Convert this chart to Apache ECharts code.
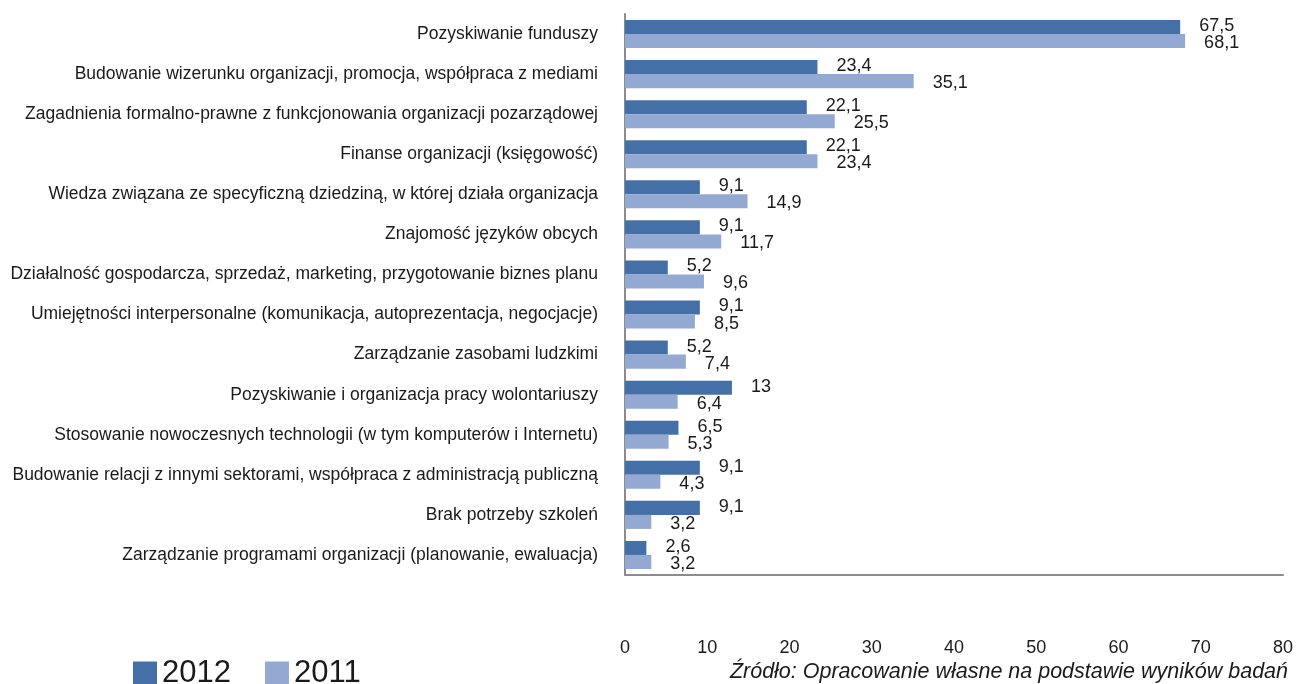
<!DOCTYPE html>
<html><head><meta charset="utf-8">
<script src="https://cdn.jsdelivr.net/npm/echarts@6/dist/echarts.min.js"></script>
<style>html,body{margin:0;padding:0;background:#fff}#c{width:1298px;height:684px}</style>
</head><body><div id="c"></div>
<script>
const categories = [
  "Pozyskiwanie funduszy",
  "Budowanie wizerunku organizacji, promocja, współpraca z mediami",
  "Zagadnienia formalno-prawne z funkcjonowania organizacji pozarządowej",
  "Finanse organizacji (księgowość)",
  "Wiedza związana ze specyficzną dziedziną, w której działa organizacja",
  "Znajomość języków obcych",
  "Działalność gospodarcza, sprzedaż, marketing, przygotowanie biznes planu",
  "Umiejętności interpersonalne (komunikacja, autoprezentacja, negocjacje)",
  "Zarządzanie zasobami ludzkimi",
  "Pozyskiwanie i organizacja pracy wolontariuszy",
  "Stosowanie nowoczesnych technologii (w tym komputerów i Internetu)",
  "Budowanie relacji z innymi sektorami, współpraca z administracją publiczną",
  "Brak potrzeby szkoleń",
  "Zarządzanie programami organizacji (planowanie, ewaluacja)"
];
const values2012 = [67.5, 23.4, 22.1, 22.1, 9.1, 9.1, 5.2, 9.1, 5.2, 13, 6.5, 9.1, 9.1, 2.6];
const values2011 = [68.1, 35.1, 25.5, 23.4, 14.9, 11.7, 9.6, 8.5, 7.4, 6.4, 5.3, 4.3, 3.2, 3.2];
const seriesNames = ["2012", "2011"];
const sourceText = "Źródło: Opracowanie własne na podstawie wyników badań";

const FONT = "Liberation Sans";
const fmt = p => String(p.value).replace('.', ',');
const chart = echarts.init(document.getElementById('c'));
chart.setOption({
  animation: false,
  textStyle: { fontFamily: FONT },
  grid: { left: 625, right: 15, top: 14, bottom: 109 },
  legend: {
    left: 128, top: 653, itemWidth: 24, itemHeight: 24, itemGap: 34, icon: 'rect',
    textStyle: { fontSize: 31, color: '#1a1a1a', fontFamily: FONT },
    data: seriesNames
  },
  title: {
    text: sourceText, right: 5, top: 656,
    textStyle: { fontSize: 21.5, fontStyle: 'italic', fontWeight: 'normal', color: '#1a1a1a', fontFamily: FONT }
  },
  xAxis: {
    type: 'value', min: 0, max: 80, interval: 10,
    axisLine: { show: true, lineStyle: { color: '#8c8c8c', width: 2 } },
    axisTick: { show: false },
    splitLine: { show: false },
    axisLabel: { fontSize: 18, color: '#1a1a1a', margin: 64 }
  },
  yAxis: {
    type: 'category', inverse: true, data: categories,
    axisLine: { show: true, lineStyle: { color: '#8c8c8c', width: 2 } },
    axisTick: { show: false },
    axisLabel: { fontSize: 17.5, color: '#1a1a1a', margin: 27 }
  },
  series: [
    { name: seriesNames[0], type: 'bar', data: values2012, barGap: '0%', barCategoryGap: '30%',
      itemStyle: { color: '#4570a7' },
      label: { show: true, position: 'right', distance: 19, fontSize: 18, color: '#1a1a1a', formatter: fmt, offset: [0, -1] } },
    { name: seriesNames[1], type: 'bar', data: values2011, barGap: '0%', barCategoryGap: '30%',
      itemStyle: { color: '#94a9d1' },
      label: { show: true, position: 'right', distance: 19, fontSize: 18, color: '#1a1a1a', formatter: fmt, offset: [0, 2] } }
  ]
});
</script></body></html>
